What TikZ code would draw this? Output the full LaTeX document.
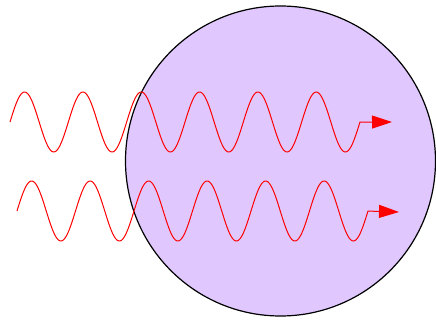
\documentclass[tikz,border=0pt]{standalone}
\usetikzlibrary{arrows.meta}
\definecolor{ballfill}{RGB}{224,200,255}
\tikzset{
  wave/.style={draw=red, line width=1pt, line join=round},
  tip/.style={-{Triangle[length=20pt,width=13pt]}},
  ball/.style={draw=black, line width=1.2pt, fill=ballfill}
}
\begin{document}
\begin{tikzpicture}[x=1pt,y=-1pt]
\useasboundingbox (0,0) rectangle (436,321);
\coordinate (c) at (280.5,161);
\draw[ball] (c) circle[radius=155];
\coordinate (e1) at (392,122);
\coordinate (e2) at (399,212);
\draw[wave,tip] plot[domain=0:6, samples=300, smooth] ({10+58.33*\x}, {122-30*sin(360*\x)}) -- (e1);
\draw[wave,tip] plot[domain=0:6, samples=300, smooth] ({17+58.5*\x}, {211-30*sin(360*\x)}) -- (e2);
\end{tikzpicture}
\end{document}
